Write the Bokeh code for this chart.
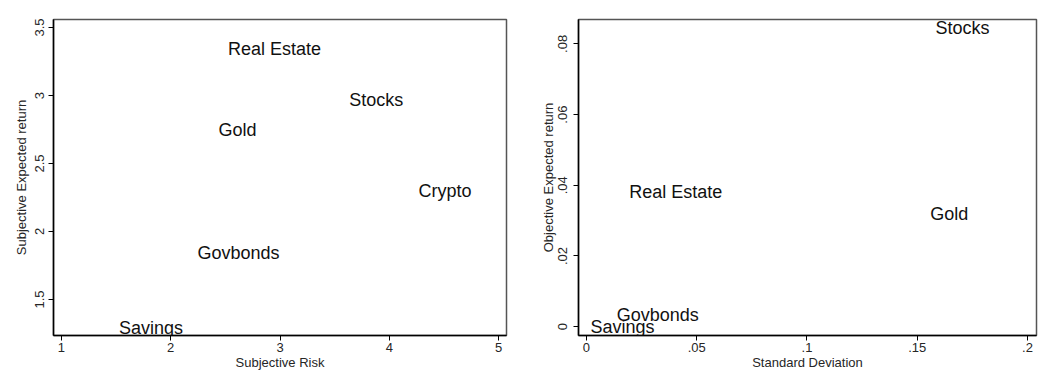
from bokeh.plotting import figure
from bokeh.layouts import row
from bokeh.models import ColumnDataSource, LabelSet, FixedTicker, Range1d
from bokeh.core.properties import value
from bokeh.embed import file_html
from bokeh.resources import INLINE

# ---- data: subjective panel ----
subj_assets = ["Savings", "Govbonds", "Gold", "Real Estate", "Stocks", "Crypto"]
subj_risk = [1.82, 2.62, 2.61, 2.95, 3.88, 4.51]
subj_return = [1.29, 1.84, 2.75, 3.34, 2.97, 2.30]

# ---- data: objective panel ----
obj_assets = ["Savings", "Govbonds", "Gold", "Real Estate", "Stocks"]
obj_sd = [0.0164, 0.0323, 0.1645, 0.0405, 0.1705]
obj_return = [0.0, 0.0033, 0.0318, 0.0382, 0.0845]

# ---- ticks ----
left_x_ticks = [1, 2, 3, 4, 5]
left_x_labels = ["1", "2", "3", "4", "5"]
left_y_ticks = [1.5, 2, 2.5, 3, 3.5]
left_y_labels = ["1.5", "2", "2.5", "3", "3.5"]
right_x_ticks = [0, 0.05, 0.1, 0.15, 0.2]
right_x_labels = ["0", ".05", ".1", ".15", ".2"]
right_y_ticks = [0, 0.02, 0.04, 0.06, 0.08]
right_y_labels = ["0", ".02", ".04", ".06", ".08"]

FONT = "Liberation Sans"
TXT = "#262626"


def style(p, xt, xl, yt, yl, xtitle, ytitle, ls_x, ls_y, as_x, as_y):
    p.xaxis.ticker = FixedTicker(ticks=xt)
    p.yaxis.ticker = FixedTicker(ticks=yt)
    p.xaxis.major_label_overrides = {t: l for t, l in zip(xt, xl)}
    p.yaxis.major_label_overrides = {t: l for t, l in zip(yt, yl)}
    p.xaxis.axis_label = xtitle
    p.yaxis.axis_label = ytitle
    p.yaxis.major_label_orientation = "vertical"
    for ax in (p.xaxis, p.yaxis):
        ax.axis_line_color = "black"
        ax.axis_line_width = 1.5
        ax.major_tick_line_color = "black"
        ax.major_tick_out = 5
        ax.major_tick_in = 0
        ax.minor_tick_out = 0
        ax.minor_tick_in = 0
        ax.major_label_text_font = FONT
        ax.major_label_text_font_size = "13px"
        ax.major_label_text_color = TXT
        ax.axis_label_text_font = FONT
        ax.axis_label_text_font_size = "13px"
        ax.axis_label_text_font_style = "normal"
        ax.axis_label_text_color = TXT
    p.xaxis.major_label_standoff = ls_x
    p.yaxis.major_label_standoff = ls_y
    p.xaxis.axis_label_standoff = as_x
    p.yaxis.axis_label_standoff = as_y
    p.xgrid.visible = False
    p.ygrid.visible = False
    p.outline_line_color = "#555555"
    p.outline_line_width = 1.5
    p.background_fill_color = "white"
    p.border_fill_color = "white"


def add_labels(p, xs, ys, names):
    src = ColumnDataSource(dict(x=xs, y=ys, name=names))
    p.add_layout(LabelSet(x="x", y="y", text="name", source=src, text_align="center",
                          text_baseline="middle", text_font=value(FONT),
                          text_font_size=value("18px"), text_color="#111111"))


p1 = figure(width=528, height=388, output_backend="svg", toolbar_location=None,
            x_range=Range1d(0.927, 5.073), y_range=Range1d(1.235, 3.559),
            min_border_left=53, min_border_right=22, min_border_top=19, min_border_bottom=53)
style(p1, left_x_ticks, left_x_labels, left_y_ticks, left_y_labels,
      "Subjective Risk", "Subjective Expected return", 2, 4, 0, 4)
add_labels(p1, subj_risk, subj_return, subj_assets)

p2 = figure(width=526, height=388, output_backend="svg", toolbar_location=None,
            x_range=Range1d(-0.0036, 0.2041), y_range=Range1d(-0.0025, 0.0869),
            min_border_left=50, min_border_right=18, min_border_top=17, min_border_bottom=50)
style(p2, right_x_ticks, right_x_labels, right_y_ticks, right_y_labels,
      "Standard Deviation", "Objective Expected return", 2, 6, 0, 0)
add_labels(p2, obj_sd, obj_return, obj_assets)

layout = row(p1, p2)
open("out.html", "w").write(file_html(layout, INLINE))
